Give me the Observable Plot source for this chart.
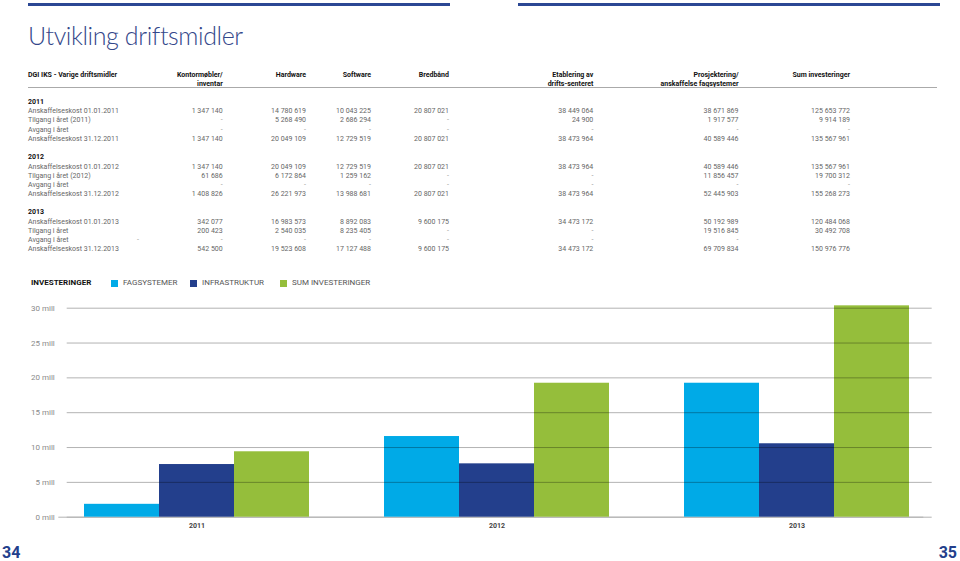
<!DOCTYPE html>
<html><head><meta charset="utf-8">
<script src="https://cdn.jsdelivr.net/npm/d3@7"></script>
<script src="https://cdn.jsdelivr.net/npm/@observablehq/plot@0.6"></script>
<style>
body{margin:0;width:960px;height:561px;position:relative;overflow:hidden;background:#fff;font-family:Roboto,"Noto Sans",sans-serif;}
.t{position:absolute;white-space:nowrap;}
#chart{position:absolute;left:0;top:290px;}
</style></head><body>
<script>
// ---------- DATA ----------
const years = ["2011", "2012", "2013"];
const seriesNames = ["FAGSYSTEMER", "INFRASTRUKTUR", "SUM INVESTERINGER"];
const fagsystemer = [1.85, 11.58, 19.23];          // mill
const infrastruktur = [7.56, 7.66, 10.54];         // mill
const sumInvesteringer = [9.39, 19.23, 30.34];     // mill
const yTicks = [0, 5, 10, 15, 20, 25, 30];
const legendTitle = "INVESTERINGER";

const pageTitle = "Utvikling driftsmidler";
const tableTitle = "DGI IKS - Varige driftsmidler";
const columnHeaders = [["Kontormøbler/", "inventar"], ["Hardware"], ["Software"], ["Bredbånd"],
  ["Etablering av", "drifts-senteret"], ["Prosjektering/", "anskaffelse fagsystemer"], ["Sum investeringer"]];
const rowLabels2011 = ["Anskaffelseskost 01.01.2011", "Tilgang i året (2011)", "Avgang i året", "Anskaffelseskost 31.12.2011"];
const rowLabels2012 = ["Anskaffelseskost 01.01.2012", "Tilgang i året (2012)", "Avgang i året", "Anskaffelseskost 31.12.2012"];
const rowLabels2013 = ["Anskaffelseskost 01.01.2013", "Tilgang i året", "Avgang i året", "Anskaffelseskost 31.12.2013"];
const table2011 = [
  ["1 347 140", "14 780 619", "10 043 225", "20 807 021", "38 449 064", "38 671 869", "125 653 772"],
  ["-", "5 268 490", "2 686 294", "-", "24 900", "1 917 577", "9 914 189"],
  ["-", "-", "-", "-", "-", "-", "-"],
  ["1 347 140", "20 049 109", "12 729 519", "20 807 021", "38 473 964", "40 589 446", "135 567 961"]];
const table2012 = [
  ["1 347 140", "20 049 109", "12 729 519", "20 807 021", "38 473 964", "40 589 446", "135 567 961"],
  ["61 686", "6 172 864", "1 259 162", "-", "-", "11 856 457", "19 700 312"],
  ["-", "-", "-", "-", "-", "-", "-"],
  ["1 408 826", "26 221 973", "13 988 681", "20 807 021", "38 473 964", "52 445 903", "155 268 273"]];
const table2013 = [
  ["342 077", "16 983 573", "8 892 083", "9 600 175", "34 473 172", "50 192 989", "120 484 068"],
  ["200 423", "2 540 035", "8 235 405", "-", "-", "19 516 845", "30 492 708"],
  ["-", "-", "-", "-", "-", "-", ""],
  ["542 500", "19 523 608", "17 127 488", "9 600 175", "34 473 172", "69 709 834", "150 976 776"]];
const pageNumbers = ["34", "35"];

// ---------- STYLE / LAYOUT ----------
const colors = ["#00aae7", "#233f8c", "#95be3b"];
const navy = "#2b4794";
const colRight = [222.7, 306, 371, 449, 593.3, 738.5, 850];
const blockY = [102, 157.7, 212.7];

function place(text, x, yc, o = {}) {
  const fs = o.size || 7, lh = Math.round(fs * 1.25);
  const d = document.createElement("div");
  d.className = "t";
  d.textContent = text;
  d.style.fontSize = fs + "px";
  d.style.lineHeight = lh + "px";
  d.style.top = (yc - lh / 2) + "px";
  if (o.right) d.style.right = (960 - x) + "px"; else d.style.left = x + "px";
  d.style.color = o.color || "#666";
  if (o.weight) d.style.fontWeight = o.weight;
  if (o.ls) d.style.letterSpacing = o.ls;
  if (o.family) d.style.fontFamily = o.family;
  document.body.appendChild(d);
  return d;
}
function box(x, y, w, h, c) {
  const d = document.createElement("div");
  Object.assign(d.style, {position: "absolute", left: x + "px", top: y + "px", width: w + "px", height: h + "px", background: c});
  document.body.appendChild(d);
}

// top rules
box(28, 3, 422, 3, navy);
box(518, 3, 422, 3, navy);
// title
place(pageTitle, 28, 35, {size: 25, color: "#34478a", weight: 300, ls: "-0.4px", family: "Lato, Roboto, sans-serif"});
// table header
place(tableTitle, 28, 75, {weight: 700, color: "#111"});
columnHeaders.forEach((h, i) => h.forEach((line, k) => place(line, colRight[i], 75 + k * 9, {right: true, weight: 700, color: "#111"})));
box(28, 86.5, 909, 1, "#aaa");
// table body
[[rowLabels2011, table2011], [rowLabels2012, table2012], [rowLabels2013, table2013]].forEach(([labels, rows], b) => {
  place(years[b], 28, blockY[b], {weight: 700, color: "#111"});
  rows.forEach((row, r) => {
    const yc = blockY[b] + 9.6 + r * 9.2;
    place(labels[r], 28, yc);
    row.forEach((v, c) => { if (v) place(v, colRight[c], yc, {right: true, color: v === "-" ? "#999" : "#666"}); });
  });
});
// stray dash in 2013 "Avgang i året" row
place("-", 139, blockY[2] + 9.6 + 2 * 9.2, {right: true, color: "#999"});

// legend
place(legendTitle, 31, 283, {size: 8, weight: 700, color: "#111"});
const legSq = [111, 190, 280];
seriesNames.forEach((s, i) => {
  box(legSq[i], 280, 6.5, 6.5, colors[i]);
  place(s, legSq[i] + 12, 283, {size: 8, color: "#555"});
});

// page numbers
place(pageNumbers[0], 2, 553, {size: 16, weight: 700, color: "#233f8c"});
place(pageNumbers[1], 957, 553, {size: 16, weight: 700, color: "#233f8c", right: true});

// ---------- CHART ----------
const keyOf = (y, s) => y + "|" + s;
const xDomain = [];
years.forEach((y, i) => { if (i > 0) xDomain.push("gap" + i); seriesNames.forEach(s => xDomain.push(keyOf(y, s))); });
const seriesValues = [fagsystemer, infrastruktur, sumInvesteringer];
const data = [];
years.forEach((y, i) => seriesNames.forEach((s, j) => data.push({year: y, series: s, key: keyOf(y, s), value: seriesValues[j][i]})));

const chart = Plot.plot({
  width: 960, height: 250,
  marginLeft: 66.7, marginRight: 28.3, marginTop: 17.7, marginBottom: 23.3,
  style: {fontFamily: "Roboto, sans-serif", background: "transparent"},
  x: {type: "band", domain: xDomain, padding: 0, insetLeft: 12.3, insetRight: 18.4, label: null},
  y: {domain: [0, 30], label: null},
  color: {domain: seriesNames, range: colors},
  marks: [
    Plot.ruleY([0], {stroke: "#b3b3b3"}),
    Plot.ruleY([0], {stroke: "#b3b3b3", dx: -8.4}),
    Plot.barY(data, {x: "key", y: "value", fill: "series"}),
    Plot.ruleY(yTicks.filter(d => d > 0), {stroke: "#000", strokeOpacity: 0.3}),
    Plot.axisY(yTicks, {tickSize: 0, tickPadding: 12.4, tickFormat: d => d + " mill", fontSize: 8, fill: "#8a8a8a", label: null}),
    Plot.axisX(years.map(y => keyOf(y, seriesNames[1])), {tickSize: 0, tickPadding: 6, tickFormat: d => d.split("|")[0], fontSize: 7, fontWeight: 700, fill: "#444", label: null})
  ]
});
chart.id = "chart";
document.body.appendChild(chart);
</script>
</body></html>
